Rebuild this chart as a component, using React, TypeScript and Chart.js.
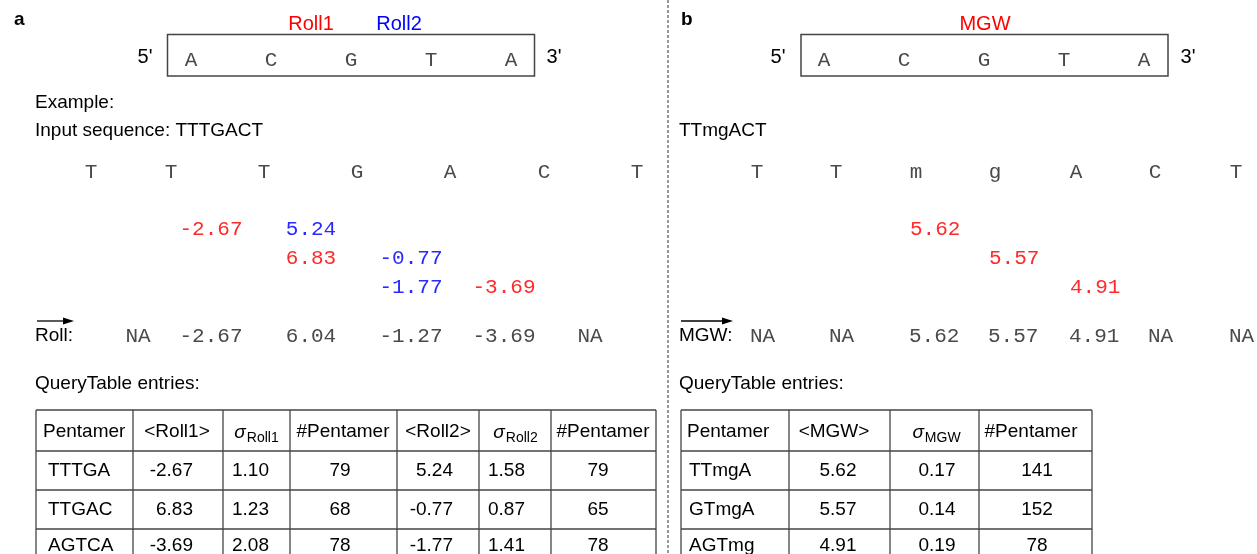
import React, { useEffect, useRef } from "react";
import { Chart, registerables } from "chart.js";

Chart.register(...registerables);

// ---------------- data ----------------
const boxBases = ["A", "C", "G", "T", "A"];
const seqA = ["T", "T", "T", "G", "A", "C", "T"];
const seqB = ["T", "T", "m", "g", "A", "C", "T"];
const roll1Values = ["-2.67", "6.83", "-3.69"];
const roll2Values = ["5.24", "-0.77", "-1.77"];
const rollCombined = ["NA", "-2.67", "6.04", "-1.27", "-3.69", "NA"];
const mgwValues = ["5.62", "5.57", "4.91"];
const mgwCombined = ["NA", "NA", "5.62", "5.57", "4.91", "NA", "NA"];

const pentamersA = ["TTTGA", "TTGAC", "AGTCA"];
const roll1Mean = ["-2.67", "6.83", "-3.69"];
const roll1Sd = ["1.10", "1.23", "2.08"];
const roll1N = ["79", "68", "78"];
const roll2Mean = ["5.24", "-0.77", "-1.77"];
const roll2Sd = ["1.58", "0.87", "1.41"];
const roll2N = ["79", "65", "78"];

const pentamersB = ["TTmgA", "GTmgA", "AGTmg"];
const mgwMean = ["5.62", "5.57", "4.91"];
const mgwSd = ["0.17", "0.14", "0.19"];
const mgwN = ["141", "152", "78"];

// ---------------- layout (value space of the hidden scales) ----------------
const W = 1257;
const H = 554;
const SANS = "'Liberation Sans', Arial, sans-serif";
const MONO = "'Liberation Mono', 'Courier New', monospace";
const RED = "#ff2a2a";
const BLUE = "#2a2aff";
const GRAY = "#444444";
const MONO_GRAY = "#4a4a4a";

const boxBaseXA = [191, 271, 351, 431, 511];
const boxBaseXB = [824, 904, 984, 1064, 1144];
const seqXA = [91, 171, 264, 357, 450, 544, 637];
const seqXB = [757, 836, 916, 995, 1076, 1155, 1236];
const slotXA = [138, 211, 311, 411, 504, 590];
const roll1Slot = [1, 2, 4];
const roll2Slot = [2, 3, 3];
const valueRowY = [229, 258, 287];
const mgwSlot = [2, 3, 4];

const colsA = [36, 133, 223, 290, 397, 479, 551, 656];
const colsB = [681, 789, 890, 979, 1092];
const rowLines = [410, 451, 490, 529];
const rowTextY = [432, 471, 510, 546];

const drawPlugin = {
  id: "diagram",
  afterDraw(chart: any) {
    const ctx: CanvasRenderingContext2D = chart.ctx;
    const sx = chart.scales.x;
    const sy = chart.scales.y;
    const X = (v: number) => sx.getPixelForValue(v);
    const Y = (v: number) => sy.getPixelForValue(v);

    const text = (
      s: string,
      x: number,
      y: number,
      font: string,
      color = "#000",
      align: CanvasTextAlign = "left"
    ) => {
      ctx.save();
      ctx.font = font;
      ctx.fillStyle = color;
      ctx.textAlign = align;
      ctx.textBaseline = "middle";
      ctx.fillText(s, X(x), Y(y));
      ctx.restore();
    };
    const line = (x1: number, y1: number, x2: number, y2: number, color = GRAY, w = 1.2, dash: number[] = []) => {
      ctx.save();
      ctx.strokeStyle = color;
      ctx.lineWidth = w;
      ctx.setLineDash(dash);
      ctx.beginPath();
      ctx.moveTo(X(x1), Y(y1));
      ctx.lineTo(X(x2), Y(y2));
      ctx.stroke();
      ctx.restore();
    };
    const arrow = (x1: number, x2: number, y: number) => {
      line(x1, y, x2 - 8, y, "#000", 1.3);
      ctx.save();
      ctx.fillStyle = "#000";
      ctx.beginPath();
      ctx.moveTo(X(x2), Y(y));
      ctx.lineTo(X(x2 - 11), Y(y - 3.5));
      ctx.lineTo(X(x2 - 11), Y(y + 3.5));
      ctx.closePath();
      ctx.fill();
      ctx.restore();
    };
    const sigma = (cx: number, y: number, sub: string) => {
      ctx.save();
      ctx.textBaseline = "alphabetic";
      ctx.font = `italic 19px ${SANS}`;
      const w1 = ctx.measureText("σ").width;
      ctx.font = `14px ${SANS}`;
      const w2 = ctx.measureText(sub).width;
      const left = X(cx) - (w1 + w2) / 2;
      const base = Y(y) + 6;
      ctx.fillStyle = "#000";
      ctx.font = `italic 19px ${SANS}`;
      ctx.fillText("σ", left, base);
      ctx.font = `14px ${SANS}`;
      ctx.fillText(sub, left + w1 + 1, base + 4);
      ctx.restore();
    };

    const F19 = `19px ${SANS}`;
    const M22 = `21px ${MONO}`;

    // divider
    line(668, 0, 668, H, "#333", 1, [3, 2]);

    // ---------- panel a ----------
    text("a", 14, 20, `bold 19px ${SANS}`);
    text("Roll1", 311, 24, `20px ${SANS}`, "#ff0000", "center");
    text("Roll2", 399, 24, `20px ${SANS}`, "#0000ff", "center");
    text("5'", 145, 57, `20px ${SANS}`, "#000", "center");
    text("3'", 554, 57, `20px ${SANS}`, "#000", "center");
    ctx.save();
    ctx.strokeStyle = GRAY;
    ctx.lineWidth = 1.5;
    ctx.strokeRect(X(167.5), Y(34.5), X(534.5) - X(167.5), Y(76) - Y(34.5));
    ctx.restore();
    boxBases.forEach((b, i) => text(b, boxBaseXA[i], 60, M22, MONO_GRAY, "center"));

    text("Example:", 35, 103, F19);
    text("Input sequence: TTTGACT", 35, 131, F19);
    seqA.forEach((b, i) => text(b, seqXA[i], 172, M22, MONO_GRAY, "center"));
    roll1Values.forEach((v, i) => text(v, slotXA[roll1Slot[i]], valueRowY[i], M22, RED, "center"));
    roll2Values.forEach((v, i) => text(v, slotXA[roll2Slot[i]], valueRowY[i], M22, BLUE, "center"));
    arrow(37, 74, 321);
    text("Roll:", 35, 336, F19);
    rollCombined.forEach((v, i) => text(v, slotXA[i], 336, M22, MONO_GRAY, "center"));

    text("QueryTable entries:", 35, 384, F19);
    colsA.forEach((c) => line(c, rowLines[0], c, H, GRAY, 1.3));
    rowLines.forEach((r) => line(colsA[0], r, colsA[colsA.length - 1], r, GRAY, 1.3));
    text("Pentamer", 43, rowTextY[0], F19);
    text("<Roll1>", 177, rowTextY[0], F19, "#000", "center");
    sigma(256, rowTextY[0], "Roll1");
    text("#Pentamer", 343, rowTextY[0], F19, "#000", "center");
    text("<Roll2>", 438, rowTextY[0], F19, "#000", "center");
    sigma(515, rowTextY[0], "Roll2");
    text("#Pentamer", 603, rowTextY[0], F19, "#000", "center");
    pentamersA.forEach((p, i) => {
      const y = rowTextY[i + 1];
      text(p, 48, y, F19);
      text(roll1Mean[i], 193, y, F19, "#000", "right");
      text(roll1Sd[i], 232, y, F19);
      text(roll1N[i], 340, y, F19, "#000", "center");
      text(roll2Mean[i], 453, y, F19, "#000", "right");
      text(roll2Sd[i], 488, y, F19);
      text(roll2N[i], 598, y, F19, "#000", "center");
    });

    // ---------- panel b ----------
    text("b", 681, 20, `bold 19px ${SANS}`);
    text("MGW", 985, 24, `20px ${SANS}`, "#ff0000", "center");
    text("5'", 778, 57, `20px ${SANS}`, "#000", "center");
    text("3'", 1188, 57, `20px ${SANS}`, "#000", "center");
    ctx.save();
    ctx.strokeStyle = GRAY;
    ctx.lineWidth = 1.5;
    ctx.strokeRect(X(801), Y(34.5), X(1168) - X(801), Y(76) - Y(34.5));
    ctx.restore();
    boxBases.forEach((b, i) => text(b, boxBaseXB[i], 60, M22, MONO_GRAY, "center"));

    text("TTmgACT", 679, 131, F19);
    seqB.forEach((b, i) => text(b, seqXB[i], 172, M22, MONO_GRAY, "center"));
    mgwValues.forEach((v, i) => text(v, seqXB[mgwSlot[i]] - 6, valueRowY[i], M22, RED, "left"));
    arrow(681, 733, 321);
    text("MGW:", 679, 336, F19);
    mgwCombined.forEach((v, i) => text(v, seqXB[i] - 7, 336, M22, MONO_GRAY, "left"));

    text("QueryTable entries:", 679, 384, F19);
    colsB.forEach((c) => line(c, rowLines[0], c, H, GRAY, 1.3));
    rowLines.forEach((r) => line(colsB[0], r, colsB[colsB.length - 1], r, GRAY, 1.3));
    text("Pentamer", 687, rowTextY[0], F19);
    text("<MGW>", 834, rowTextY[0], F19, "#000", "center");
    sigma(936, rowTextY[0], "MGW");
    text("#Pentamer", 1031, rowTextY[0], F19, "#000", "center");
    pentamersB.forEach((p, i) => {
      const y = rowTextY[i + 1];
      text(p, 689, y, F19);
      text(mgwMean[i], 838, y, F19, "#000", "center");
      text(mgwSd[i], 937, y, F19, "#000", "center");
      text(mgwN[i], 1037, y, F19, "#000", "center");
    });
  },
};

export default function App() {
  const ref = useRef<HTMLCanvasElement | null>(null);
  useEffect(() => {
    document.body.style.margin = "0";
    const canvas = ref.current;
    if (!canvas) return;
    const chart = new Chart(canvas, {
      type: "scatter",
      data: { datasets: [{ data: [], pointRadius: 0 }] },
      options: {
        animation: false,
        responsive: false,
        devicePixelRatio: 1,
        layout: { padding: 0 },
        plugins: { legend: { display: false }, tooltip: { enabled: false } },
        scales: {
          x: { type: "linear", min: 0, max: W, display: false },
          y: { type: "linear", min: 0, max: H, reverse: true, display: false },
        },
      },
      plugins: [drawPlugin],
    });
    return () => chart.destroy();
  }, []);
  return (
    <div style={{ width: W, height: H, background: "#fff" }}>
      <canvas ref={ref} width={W} height={H} style={{ display: "block" }} />
    </div>
  );
}
